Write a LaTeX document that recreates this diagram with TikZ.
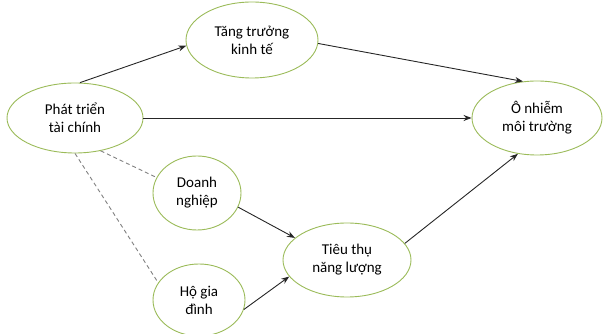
\documentclass[tikz,border=0pt]{standalone}
\usepackage{fontspec}
\setmainfont{Carlito}
\usetikzlibrary{shapes.geometric,arrows.meta}
\definecolor{ellgreen}{RGB}{155,187,89}
\tikzset{
  ell/.style={ellipse, draw=ellgreen, line width=0.9pt, fill=white,
    inner sep=0pt, align=center, font=\fontsize{15}{18}\selectfont},
  arr/.style={-{Stealth[length=8pt,width=6pt]}, line width=0.9pt, black!85},
  dsh/.style={dashed, dash pattern=on 4pt off 3pt, line width=0.9pt, gray},
}
\begin{document}
\begin{tikzpicture}[x=1pt,y=1pt]
\useasboundingbox (0,0) rectangle (603,334);
\node[ell, minimum width=136pt, minimum height=70pt] (ptc) at (75,216) {Phát triển\\tài chính};
\node[ell, minimum width=132pt, minimum height=76pt] (tt) at (252,294) {Tăng trưởng\\kinh tế};
\node[ell, minimum width=130pt, minimum height=74pt] (on) at (537,216) {Ô nhiễm\\môi trường};
\node[ell, minimum width=88pt, minimum height=74pt] (dn) at (197,141) {Doanh\\nghiệp};
\node[ell, minimum width=92pt, minimum height=72pt] (hgd) at (199,34) {Hộ gia\\đình};
\node[ell, minimum width=128pt, minimum height=74pt] (ttnl) at (347,74) {Tiêu thụ\\năng lượng};
\draw[arr] (ptc.82) -- (tt.185);
\draw[arr] (tt.-3) -- (on.111);
\draw[arr] (ptc.east) -- (on.west);
\draw[arr] (dn.-19) -- (ttnl.157);
\draw[arr] (hgd.-12) -- (ttnl.196);
\draw[arr] (ttnl.16) -- (on.242);
\draw[dsh] (ptc.308) -- (dn.159);
\draw[dsh] (ptc.270) -- (hgd.157);
\end{tikzpicture}
\end{document}
